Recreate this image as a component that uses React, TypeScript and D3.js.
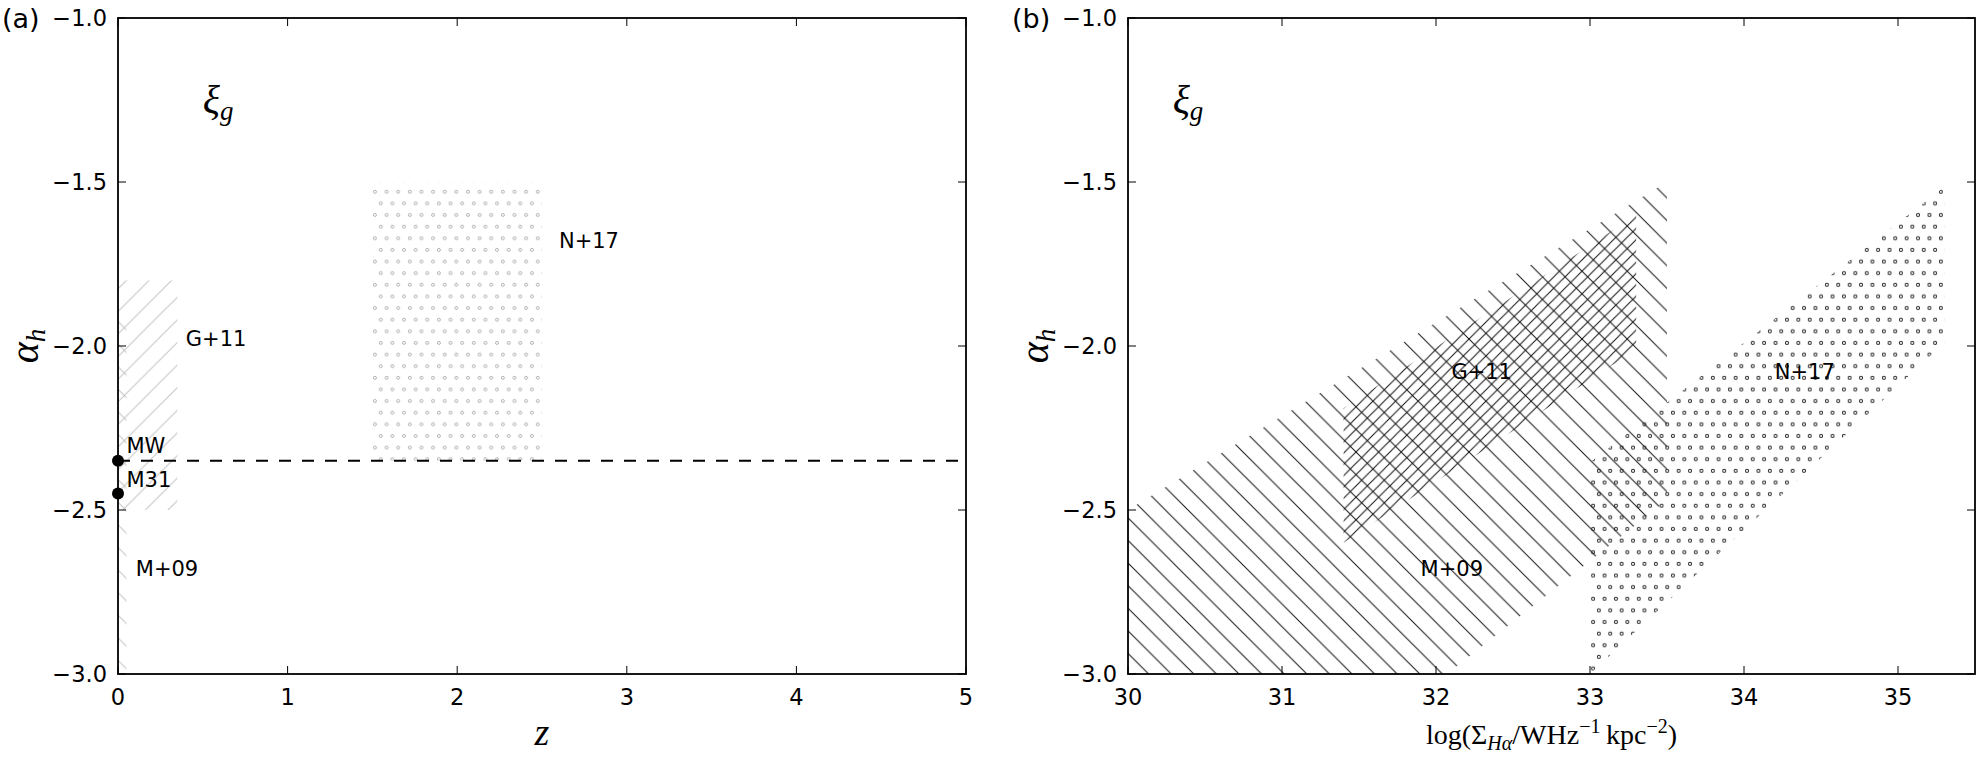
import React from "react";
import * as d3 from "d3";

// ---------- data ----------
const yTicks = [-1.0, -1.5, -2.0, -2.5, -3.0];
const xTicksA = [0, 1, 2, 3, 4, 5];
const xTicksB = [30, 31, 32, 33, 34, 35];

// panel (a): rectangles [x0, x1, y0, y1]
const g11A = [0, 0.35, -2.5, -1.8];
const m09A = [0, 0.05, -3.0, -1.9];
const n17A = [1.5, 2.5, -2.35, -1.5];
const mwAlpha = -2.35;
const localGalaxies = [
  { name: "MW", z: 0, alpha: -2.35 },
  { name: "M31", z: 0, alpha: -2.45 },
];
const labelsA = [
  { text: "G+11", x: 0.4, y: -2.0 },
  { text: "MW", x: 0.05, y: -2.326 },
  { text: "M31", x: 0.05, y: -2.43 },
  { text: "M+09", x: 0.105, y: -2.7 },
  { text: "N+17", x: 2.6, y: -1.7 },
];

// panel (b): polygons [logSigma, alpha]
const m09B: [number, number][] = [
  [30, -2.5],
  [33.5, -1.5],
  [33.5, -2.47],
  [32.07, -3.0],
  [30, -3.0],
];
const g11B: [number, number][] = [
  [31.4, -2.19],
  [33.3, -1.6],
  [33.3, -2.01],
  [31.4, -2.6],
];
const n17B: [number, number][] = [
  [33.0, -2.355],
  [35.3, -1.515],
  [35.3, -1.99],
  [33.0, -3.0],
];
const labelsB = [
  { text: "G+11", x: 32.1, y: -2.1 },
  { text: "M+09", x: 31.9, y: -2.7 },
  { text: "N+17", x: 34.2, y: -2.1 },
];

// ---------- layout ----------
const W = 1980;
const H = 764;
const top = 18;
const bottom = 674;
const aLeft = 118;
const aRight = 966;
const bLeft = 1128;
const bRight = 1975;

const y = d3.scaleLinear().domain([-3, -1]).range([bottom, top]);
const xA = d3.scaleLinear().domain([0, 5]).range([aLeft, aRight]);
const xB = d3.scaleLinear().domain([30, 35.5]).range([bLeft, bRight]);

const SANS = "DejaVu Sans, sans-serif";
const SERIF = "Liberation Serif, DejaVu Serif, serif";

function Axes({ x, ticks, left, right }: any) {
  const fmtY = (v: number) => (v < 0 ? "\u2212" : "") + Math.abs(v).toFixed(1);
  const fmtX = (v: number) => d3.format("d")(v);
  return (
    <g>
      <rect x={left} y={top} width={right - left} height={bottom - top} fill="none" stroke="#000" strokeWidth={1.8} />
      {ticks.map((t: number) => (
        <g key={"x" + t}>
          <line x1={x(t)} x2={x(t)} y1={bottom} y2={bottom - 8} stroke="#000" strokeWidth={1} />
          <line x1={x(t)} x2={x(t)} y1={top} y2={top + 8} stroke="#000" strokeWidth={1} />
          <text x={x(t)} y={705} textAnchor="middle" fontFamily={SANS} fontSize={22.5}>
            {fmtX(t)}
          </text>
        </g>
      ))}
      {yTicks.map((t) => (
        <g key={"y" + t}>
          <line x1={left} x2={left + 8} y1={y(t)} y2={y(t)} stroke="#000" strokeWidth={1} />
          <line x1={right} x2={right - 8} y1={y(t)} y2={y(t)} stroke="#000" strokeWidth={1} />
          <text x={left - 11} y={y(t)} dy="0.36em" textAnchor="end" fontFamily={SANS} fontSize={22.5}>
            {fmtY(t)}
          </text>
        </g>
      ))}
      <text x={left - 80} y={y(-2)} transform={`rotate(-90 ${left - 80} ${y(-2)})`} textAnchor="middle" fontFamily={SERIF} fontSize={40} fontStyle="italic">
        α<tspan fontSize={27} dy={7}>h</tspan>
      </text>
    </g>
  );
}

function Xi({ x, yy }: any) {
  return (
    <text x={x} y={yy} fontFamily={SERIF} fontSize={40} fontStyle="italic">
      ξ<tspan fontSize={27} dy={7}>g</tspan>
    </text>
  );
}

export default function App() {
  const line = d3.line<[number, number]>();
  const polyB = (pts: [number, number][]) => line(pts.map(([a, b]) => [xB(a), y(b)]) as [number, number][]) + "Z";
  const rectA = (r: number[]) => ({
    x: xA(r[0]),
    y: y(r[3]),
    width: xA(r[1]) - xA(r[0]),
    height: y(r[2]) - y(r[3]),
  });
  const s = 22.6; // single hatch tile
  const d = 11.4; // dot spacing
  const diagFwd = (t: number) => `M0,${t} L${t},0 M${-t / 4},${t / 4} L${t / 4},${-t / 4} M${(3 * t) / 4},${(5 * t) / 4} L${(5 * t) / 4},${(3 * t) / 4}`;
  const diagBack = (t: number) => `M0,0 L${t},${t} M${-t / 4},${(3 * t) / 4} L${t / 4},${(5 * t) / 4} M${(3 * t) / 4},${-t / 4} L${(5 * t) / 4},${t / 4}`;

  return (
    <svg width={W} height={H} viewBox={`0 0 ${W} ${H}`} style={{ position: "absolute", left: 0, top: 0, display: "block", background: "#fff" }}>
      <defs>
        <pattern id="lightFwd" patternUnits="userSpaceOnUse" width={s} height={s}>
          <path d={diagFwd(s)} stroke="#c4c4c4" strokeWidth={1} />
        </pattern>
        <pattern id="lightBack" patternUnits="userSpaceOnUse" width={s} height={s}>
          <path d={diagBack(s)} stroke="#c4c4c4" strokeWidth={1} />
        </pattern>
        <pattern id="lightDots" patternUnits="userSpaceOnUse" width={d * 1.02} height={d * 2.04}>
          <circle cx={d * 0.25} cy={d * 0.5} r={1.5} fill="none" stroke="#aaaaaa" strokeWidth={0.9} />
          <circle cx={d * 0.25 + d * 0.51} cy={d * 0.5 + d * 1.02} r={1.5} fill="none" stroke="#aaaaaa" strokeWidth={0.9} />
        </pattern>
        <pattern id="blackBack" patternUnits="userSpaceOnUse" width={s} height={s}>
          <path d={diagBack(s)} stroke="#111" strokeWidth={1} />
        </pattern>
        <pattern id="blackFwd2" patternUnits="userSpaceOnUse" width={s / 2} height={s / 2}>
          <path d={diagFwd(s / 2)} stroke="#111" strokeWidth={1} />
        </pattern>
        <pattern id="blackDots" patternUnits="userSpaceOnUse" width={d} height={d * 2.04}>
          <circle cx={d * 0.25} cy={d * 0.5} r={1.5} fill="none" stroke="#222" strokeWidth={1} />
          <circle cx={d * 0.25 + d * 0.5} cy={d * 0.5 + d * 1.02} r={1.5} fill="none" stroke="#222" strokeWidth={1} />
        </pattern>
        <clipPath id="clipA">
          <rect x={aLeft} y={top} width={aRight - aLeft} height={bottom - top} />
        </clipPath>
        <clipPath id="clipB">
          <rect x={bLeft} y={top} width={bRight - bLeft} height={bottom - top} />
        </clipPath>
      </defs>

      {/* ---------- panel (a) ---------- */}
      <g clipPath="url(#clipA)">
        <rect {...rectA(m09A)} fill="url(#lightBack)" />
        <rect {...rectA(g11A)} fill="url(#lightFwd)" />
        <rect {...rectA(n17A)} fill="url(#lightDots)" />
        <line x1={xA(0)} x2={xA(5)} y1={y(mwAlpha)} y2={y(mwAlpha)} stroke="#000" strokeWidth={2} strokeDasharray="12,11" />
      </g>
      {localGalaxies.map((g) => (
        <circle key={g.name} cx={xA(g.z)} cy={y(g.alpha)} r={6} fill="#000" />
      ))}
      {labelsA.map((l) => (
        <text key={l.text} x={xA(l.x)} y={y(l.y)} fontFamily={SANS} fontSize={21}>
          {l.text}
        </text>
      ))}
      <Xi x={xA(0.5)} yy={y(-1.29)} />
      <Axes x={xA} ticks={xTicksA} left={aLeft} right={aRight} />
      <text x={xA(2.5)} y={745} textAnchor="middle" fontFamily={SERIF} fontSize={38} fontStyle="italic">
        z
      </text>
      <text x={2} y={28} fontFamily={SANS} fontSize={27}>
        (a)
      </text>

      {/* ---------- panel (b) ---------- */}
      <g clipPath="url(#clipB)">
        <path d={polyB(m09B)} fill="url(#blackBack)" />
        <path d={polyB(g11B)} fill="url(#blackFwd2)" />
        <path d={polyB(n17B)} fill="url(#blackDots)" />
      </g>
      {labelsB.map((l) => (
        <text key={l.text} x={xB(l.x)} y={y(l.y)} fontFamily={SANS} fontSize={21}>
          {l.text}
        </text>
      ))}
      <Xi x={xB(30.29)} yy={y(-1.29)} />
      <Axes x={xB} ticks={xTicksB} left={bLeft} right={bRight} />
      <text x={(bLeft + bRight) / 2} y={744} textAnchor="middle" fontFamily={SERIF} fontSize={28}>
        log(Σ<tspan fontSize={20} fontStyle="italic" dy={6}>Hα</tspan>
        <tspan dy={-6}>/WHz</tspan>
        <tspan fontSize={20} dy={-11}>−1</tspan>
        <tspan dy={11}>{"\u2009"}kpc</tspan>
        <tspan fontSize={20} dy={-11}>−2</tspan>
        <tspan dy={11}>)</tspan>
      </text>
      <text x={1012} y={28} fontFamily={SANS} fontSize={27}>
        (b)
      </text>
    </svg>
  );
}
